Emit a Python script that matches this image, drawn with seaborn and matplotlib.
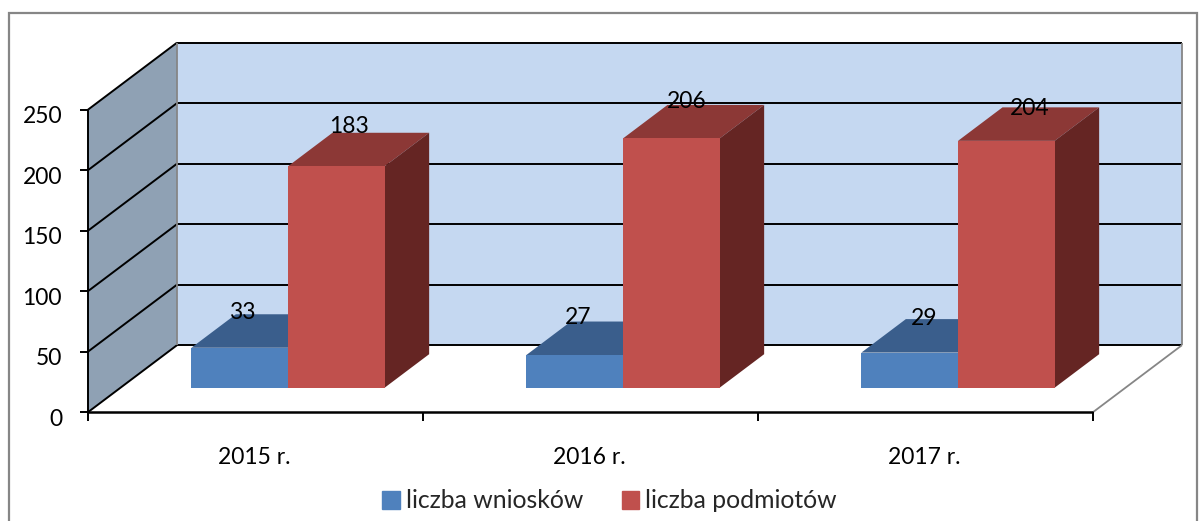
import matplotlib
matplotlib.use("Agg")
import matplotlib.pyplot as plt
import matplotlib.patches as mpatches
import pandas as pd
import seaborn as sns

years = ["2015 r.", "2016 r.", "2017 r."]
wnioski = [33, 27, 29]
podmioty = [183, 206, 204]
y_ticks = [0, 50, 100, 150, 200, 250]

# pixel layout of the excel-like 3d box
PX_X = 335
PX_Y = 1.21
X0 = 288.0
Y0 = 387.7
DX = 89 / PX_X
DY = 67 / PX_Y
D_FRONT = 0.365
D_BACK = 0.865

WALL = "#C5D8F1"
SIDE_WALL = "#8FA1B4"
TOPS = {"liczba wniosków": "#3A5E8C", "liczba podmiotów": "#8C3836"}
SIDES = {"liczba wniosków": "#2C4668", "liczba podmiotów": "#652523"}
COLORS = {"liczba wniosków": "#4F81BD", "liczba podmiotów": "#C0504D"}

# excel places its 3d labels unevenly, offsets in pixels from the back top edge
LABEL_SHIFT = {
    "liczba wniosków": [(-42, 2), (-41, 4), (-30, 1)],
    "liczba podmiotów": [(-32, 6), (-29, 3), (-21, -1)],
}


def proj(x, v, d):
    return x + (d - D_FRONT) * DX, v + (d - D_FRONT) * DY


def face(ax, pts, color, z):
    xs = [p[0] for p in pts]
    ys = [p[1] for p in pts]
    ax.fill(xs, ys, color=color, lw=0, zorder=z)


df = pd.DataFrame({
    "rok": years * 2,
    "seria": ["liczba wniosków"] * 3 + ["liczba podmiotów"] * 3,
    "wartosc": wnioski + podmioty,
})

sns.set_theme(style="white")
plt.rcParams["font.family"] = ["Lato", "DejaVu Sans"]

fig = plt.figure(figsize=(12, 5.21), dpi=100, facecolor="white")
ax = fig.add_axes([0, 0, 1, 1])

sns.barplot(data=df, x="rok", y="wartosc", hue="seria", palette=COLORS,
            order=years, width=0.577, gap=0, saturation=1, legend=False,
            linewidth=0, ax=ax)

ax.set_xlim(-X0 / PX_X, (1200 - X0) / PX_X)
ax.set_ylim((Y0 - 521) / PX_Y, Y0 / PX_Y)
ax.set_axis_off()

xl, xr = -0.5, len(years) - 0.5
vmax = y_ticks[-1]

# walls
face(ax, [proj(xl, 0, 1), proj(xr, 0, 1), proj(xr, vmax, 1), proj(xl, vmax, 1)], WALL, 1)
face(ax, [proj(xl, 0, 0), proj(xl, 0, 1), proj(xl, vmax, 1), proj(xl, vmax, 0)], SIDE_WALL, 1)


def line(p, q, color="black", lw=1.4, z=2):
    ax.plot([p[0], q[0]], [p[1], q[1]], color=color, lw=lw, zorder=z,
            solid_capstyle="butt", clip_on=False)


for v in y_ticks:
    line(proj(xl, v, 0), proj(xl, v, 1))
    line(proj(xl, v, 1), proj(xr, v, 1))
    tx, ty = proj(xl, v, 0)
    line((tx - 8 / PX_X, ty), (tx, ty))
    ax.text(tx - 26 / PX_X, ty - 7 / PX_Y, str(v), ha="right", va="center",
            fontsize=16.5, color="black")

line(proj(xl, 0, 1), proj(xl, vmax, 1), color="#868686", lw=1.3)
line(proj(xr, 0, 1), proj(xr, vmax, 1), color="#868686", lw=1.3)
line(proj(xr, 0, 0), proj(xr, 0, 1), color="#868686", lw=1.3)
line(proj(xl, 0, 0), proj(xl, vmax, 0))
line(proj(xl, 0, 0), proj(xr, 0, 0), lw=1.8, z=3)

for i, year in enumerate(years):
    tx, ty = proj(i - 0.5, 0, 0)
    line((tx, ty), (tx, ty - 9 / PX_Y))
    ax.text(i - 0.1, ty - 45 / PX_Y, year, ha="center", va="center", fontsize=16.5, color="black")
tx, ty = proj(xr, 0, 0)
line((tx, ty), (tx, ty - 9 / PX_Y))

# bar depth faces, built from the bars seaborn drew
series = list(COLORS)
for s, container in zip(series, ax.containers):
    for bar, shift in zip(container, LABEL_SHIFT[s]):
        x1, x2 = bar.get_x(), bar.get_x() + bar.get_width()
        h = bar.get_height()
        bar.set_zorder(5)
        face(ax, [proj(x1, h, D_FRONT), proj(x2, h, D_FRONT), proj(x2, h, D_BACK), proj(x1, h, D_BACK)], TOPS[s], 4)
        face(ax, [proj(x2, 0, D_FRONT), proj(x2, 0, D_BACK), proj(x2, h, D_BACK), proj(x2, h, D_FRONT)], SIDES[s], 4)
        tx, ty = proj(x1 + (x2 - x1) / 2, h, D_BACK)
        ax.text(tx + shift[0] / PX_X, ty + shift[1] / PX_Y, str(int(h)), ha="center", va="center",
                fontsize=16.5, color="black", zorder=6)

# legend and outer frame
handles = [mpatches.Patch(color=COLORS[s], label=s) for s in series]
ax.legend(handles=handles, ncol=2, loc="center", bbox_to_anchor=(609.5 / 1200, 1 - 501 / 521),
          frameon=False, fontsize=17.8, handlelength=0.7, handleheight=0.7,
          handletextpad=0.25, columnspacing=1.56, borderpad=0, borderaxespad=0)

fig.add_artist(plt.Rectangle((9 / 1200, -0.02), (1197 - 9) / 1200, 1.02 - 13 / 521, fill=False,
                             edgecolor="#868686", lw=1.6, transform=fig.transFigure))

fig.savefig("out.png", dpi=100, facecolor="white")
